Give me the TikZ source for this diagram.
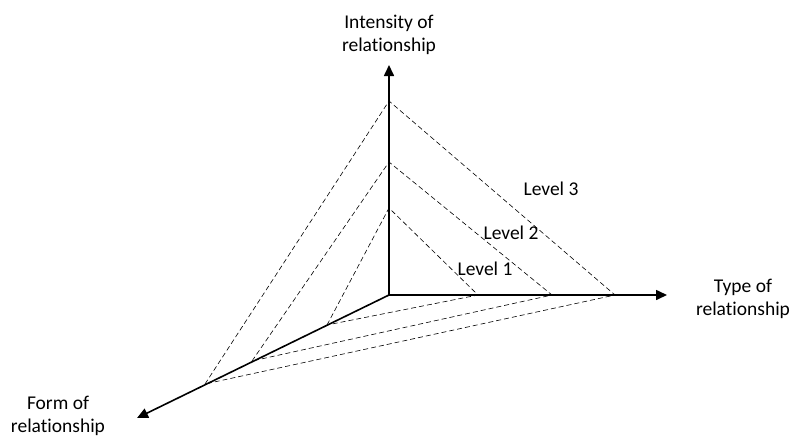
\documentclass[tikz,border=0pt]{standalone}
\usepackage{fontspec}
\setmainfont{Carlito}[RawFeature=-liga]
\usetikzlibrary{positioning,arrows.meta}

\begin{document}
\begin{tikzpicture}[x=1pt,y=-1pt,
    axis/.style={line width=1.6pt,-{Triangle[length=11pt,width=10pt]}},
    guide/.style={line width=0.6pt,dash pattern=on 5pt off 3pt},
    lbl/.style={font=\fontsize{19.5}{23}\selectfont,align=center,inner sep=0pt}]
    \useasboundingbox (0,0) rectangle (794,439);
    \coordinate (O) at (389,295);
    \coordinate (Iend) at (389,65);
    \coordinate (Tend) at (667,295);
    \coordinate (Fend) at (137,418);
    \foreach \n/\iy/\tx/\fx/\fy/\lx/\ly in {1/208/478/327/325/485/275,
        2/162/552/252/361/511/239, 3/101/615/205/384/551/195}{
        \coordinate (i\n) at (389,\iy);
        \coordinate (t\n) at (\tx,295);
        \coordinate (f\n) at (\fx,\fy);
        \draw[guide] (f\n) -- (i\n) -- (t\n) -- cycle;
        \node[lbl,anchor=base] (lv\n) at (\lx,\ly) {Level \n};
    }
    \draw[axis] (O) -- (Iend);
    \draw[axis] (O) -- (Tend);
    \draw[axis] (O) -- (Fend);
    \node[lbl] (intensity) at (389,35) {Intensity of\\relationship};
    \node[lbl] (type) at (743,299) {Type of\\relationship};
    \node[lbl] (form) at (58,416) {Form of\\relationship};
\end{tikzpicture}
\end{document}
